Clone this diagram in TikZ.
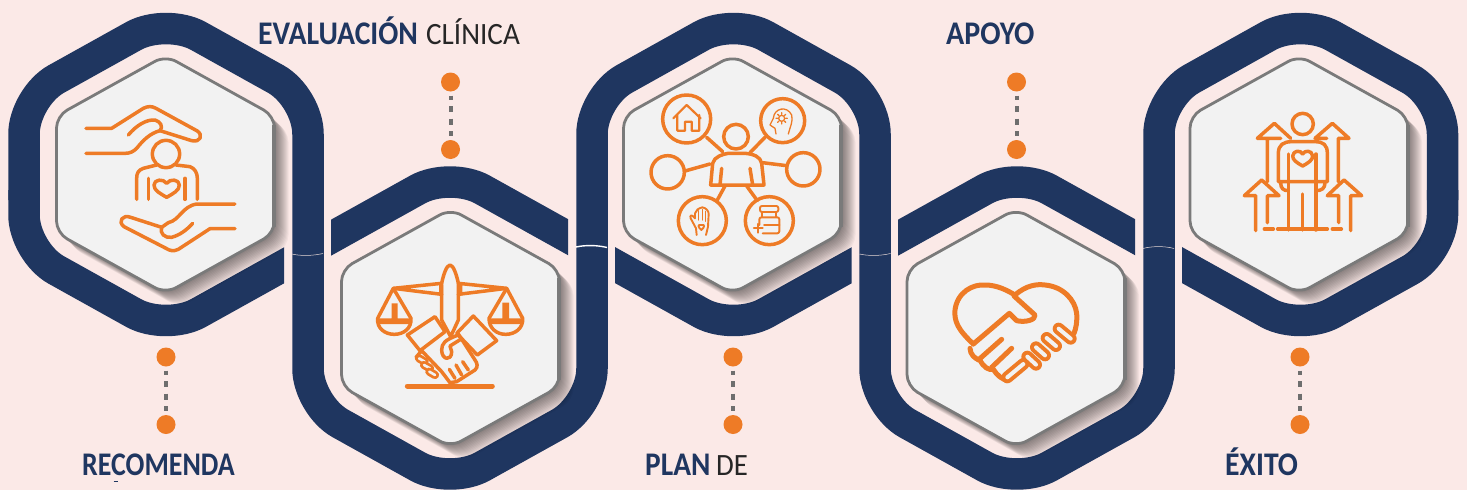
\documentclass[tikz,border=0pt]{standalone}
\usepackage{fontspec}
\usepackage{graphicx}
\setmainfont{Carlito}
\definecolor{bgp}{HTML}{FBE9E7}
\definecolor{navy}{HTML}{1F3660}
\definecolor{ico}{HTML}{EE7B26}
\definecolor{pan}{HTML}{F2F2F2}
\definecolor{edgeg}{HTML}{7A7A7A}
\definecolor{dashg}{HTML}{6E6E6E}
\tikzset{
  ring/.style={draw=navy,line width=31.5pt,rounded corners=37pt,line join=round},
  ic/.style={draw=ico,line width=3.5pt,line join=round,line cap=round,fill=none},
  icth/.style={draw=ico,line width=1.9pt,line join=round,line cap=round,fill=none},
  saus/.style={draw=ico,line width=2.8pt,double=pan,double distance=2.6pt,line cap=round},
  sausb/.style={draw=ico,line width=4pt,double=pan,double distance=4pt,line cap=round},
  icb/.style={draw=ico,line width=5pt,line join=round,line cap=round,fill=none},
  zm/.style 2 args={shift={(#1,#2)},x=.33333pt,y=-.33333pt},
  dotn/.style={circle,fill=ico,inner sep=0pt,minimum size=19pt},
  lnk/.style={draw=dashg,line width=4pt,dash pattern=on 6pt off 6.5pt,dash phase=2pt,shorten <=4pt,shorten >=4pt},
  ttl/.style={font=\fontsize{33}{36}\selectfont\bfseries,text=navy,anchor=base west,inner sep=0pt},
  ttr/.style={font=\fontsize{31}{36}\selectfont,text=black!85,anchor=base west,inner sep=0pt},
  wave/.style={draw=bgp!85!gray,line width=.5pt}
}
\newcommand\hexpanel[2]{%
  \foreach \i in {1,...,14}{\fill[black,opacity=.04,rounded corners=12pt,shift={(\i,\i)}]
    ({#1+109},{#2-58.5}) -- ({#1+109},{#2+58.5}) -- (#1,{#2+119}) -- ({#1-109},{#2+58.5}) -- ({#1-109},{#2-58.5}) -- (#1,{#2-119}) -- cycle;}
  \draw[draw=edgeg,fill=pan,line width=2.8pt,rounded corners=12pt]
    ({#1+109},{#2-58.5}) -- ({#1+109},{#2+58.5}) -- (#1,{#2+119}) -- ({#1-109},{#2+58.5}) -- ({#1-109},{#2-58.5}) -- (#1,{#2-119}) -- cycle;
  \draw[draw=edgeg,line width=4pt] ({#1+108.5},{#2-50}) -- ({#1+108.5},{#2+52});
}
\begin{document}
\begin{tikzpicture}[x=1pt,y=-1pt]
\useasboundingbox (0,0) rectangle (1467,490);
\fill[bgp] (0,0) rectangle (1467,490);
% serpentine band
\draw[ring] (24,200) -- (24,97) -- (166,18) -- (308,97) -- (308,405.5) -- (450,484.5) -- (592,405.5)
  -- (592,97) -- (733.5,18) -- (875,97) -- (875,405.5) -- (1017,484.5) -- (1159,405.5)
  -- (1159,97) -- (1300.5,18) -- (1442.5,97) -- (1442.5,200);
% lower chevrons
\begin{scope}\clip (0,0) rectangle (284,490);
\draw[ring] (24,190) -- (24,252) -- (166,331) -- (308,252);\end{scope}
\begin{scope}\clip (615,0) rectangle (851.5,490);
\draw[ring] (591.5,252) -- (733.5,331) -- (875.5,252);\end{scope}
\begin{scope}\clip (1182,0) rectangle (1467,490);
\draw[ring] (1442.5,190) -- (1442.5,252) -- (1300.5,331) -- (1158.5,252);\end{scope}
% upper chevrons
\begin{scope}\clip (331,0) rectangle (568,490);
\draw[ring] (308,250.5) -- (450,171.5) -- (592,250.5);\end{scope}
\begin{scope}\clip (898,0) rectangle (1135,490);
\draw[ring] (875,250.5) -- (1017,171.5) -- (1159,250.5);\end{scope}
% seams
\draw[wave] (292,254) .. controls (300,256) and (312,256) .. (323,253.5);
\draw[draw=white,line width=1.4pt] (576,247) .. controls (585,245) and (597,245) .. (607,247.5);
\draw[wave] (859.5,254) .. controls (868,256) and (880,256) .. (890.5,253.5);
\draw[wave] (1143,248.5) .. controls (1152,246) and (1165,246) .. (1174,248.5);
% panels
\hexpanel{165.5}{174.5}
\hexpanel{450.5}{328}
\hexpanel{732.5}{174.5}
\hexpanel{1016}{328}
\hexpanel{1299}{174.5}

% ---- icon 1
\begin{scope}[zm={0}{0}]
\draw[ic] (258,385) -- (335,385) -- (430,325) .. controls (445,318) and (455,318) .. (468,325) -- (592,393) .. controls (610,405) and (602,428) .. (575,422) -- (480,392);
\draw[ic] (385,405) .. controls (410,375) and (440,358) .. (465,360) .. controls (482,365) and (490,380) .. (480,392) .. controls (450,400) and (430,420) .. (410,445) .. controls (400,455) and (390,460) .. (375,460) -- (258,460);
\draw[ic] (498,462) circle[radius=41];
\draw[ic] (470,495) -- (430,505) .. controls (415,510) and (410,520) .. (410,535) -- (410,598);
\draw[ic] (528,495) -- (570,500) .. controls (585,505) and (592,520) .. (592,535) -- (592,598);
\draw[ic] (445,535) -- (445,598) (555,535) -- (555,598);
\draw[ic] (500,592) .. controls (480,580) and (462,572) .. (462,555) .. controls (462,538) and (490,535) .. (500,550) .. controls (510,535) and (538,538) .. (538,555) .. controls (538,572) and (520,580) .. (500,592) -- cycle;
\draw[ic] (705,612) -- (590,612) .. controls (545,620) and (540,660) .. (505,668) -- (485,682) .. controls (478,700) and (495,715) .. (515,712) .. controls (540,705) and (560,690) .. (578,670);
\draw[ic] (705,686) -- (630,686) -- (535,748) .. controls (520,755) and (510,752) .. (500,746) -- (372,680) .. controls (352,665) and (368,642) .. (392,652) -- (485,682);
\end{scope}

% ---- icon 2: scale
\begin{scope}[zm={285}{150}]
\draw[ic] (325,415) -- (470,400) (325,415) -- (470,433) (665,415) -- (520,400) (665,415) -- (520,433);
\fill[ico] (462,405) rectangle (474,436) (520,405) rectangle (532,436);
\draw[ic] (470,400) .. controls (475,375) and (485,345) .. (495,345) .. controls (505,345) and (515,375) .. (520,400) -- (520,510) -- (497,560) -- (470,510) -- cycle;
\draw[ic] (325,415) -- (278,505) .. controls (275,535) and (300,553) .. (328,553) .. controls (356,553) and (380,535) .. (378,505) -- cycle;
\draw[ic] (665,415) -- (612,505) .. controls (612,535) and (635,553) .. (662,553) .. controls (690,553) and (715,535) .. (713,505) -- cycle;
\fill[ico] (320,460) rectangle (338,505) (652,458) rectangle (672,505) (278,505) rectangle (380,522) (612,505) rectangle (715,522);
\end{scope}
% ---- icon 2: handshake
\begin{scope}[zm={400}{310}]
\draw[ic] (22,75) -- (105,20) -- (135,65) -- (60,122) -- cycle;
\draw[ic] (220,18) -- (290,92) -- (232,135) -- (170,70) -- cycle;
\draw[saus] (57,145) -- (74,155);
\draw[saus] (72,165) -- (90,175);
\draw[saus] (88,185) -- (105,195);
\draw[ic] (65,122) -- (48,142) (65,122) -- (125,185) -- (150,218) -- (170,215) -- (225,180) .. controls (235,170) and (232,160) .. (225,150) -- (175,72);
\draw[ic] (172,76) .. controls (135,90) and (125,100) .. (125,120) .. controls (125,150) and (155,155) .. (155,125) -- (150,108) -- (182,88);
\draw[ic] (148,178) -- (165,205) (168,165) -- (185,195) (188,155) -- (205,180);
\draw[ico,line width=5pt,line cap=round] (22,228) -- (277,228);
\end{scope}

% ---- icon 3
\begin{scope}[zm={570}{0}]
\draw[ic] (350,357) circle[radius=72] (638,362) circle[radius=66] (293,517) circle[radius=50] (700,508) circle[radius=50] (397,662) circle[radius=72] (598,662) circle[radius=72] (498,410) circle[radius=37];
\draw[ic] (422,555) -- (428,490) .. controls (432,470) and (460,462) .. (475,460) -- (525,460) .. controls (550,462) and (572,470) .. (575,490) -- (582,555) -- cycle;
\draw[ic] (455,505) -- (450,555) (540,505) -- (548,555);
\draw[ic] (410,412) -- (458,455) (585,412) -- (540,458) (345,513) -- (420,492) (578,488) -- (650,497) (465,558) -- (442,600) (530,558) -- (562,602);
\draw[icth,line width=2.2pt] (310,355) -- (350,315) -- (392,355) (322,345) -- (322,392) -- (345,392) -- (345,365) -- (365,365) -- (365,392) -- (388,392) -- (388,345);
\draw[icth,line width=1.3pt] (618,402) -- (615,385) -- (600,375) -- (610,355) .. controls (612,325) and (650,315) .. (665,345) .. controls (670,365) and (660,380) .. (655,402);
\draw[icth,line width=1.3pt] (635,355) circle[radius=9];
\draw[icth,line width=1.3pt] (635,338) -- (635,343) (635,367) -- (635,372) (618,355) -- (623,355) (647,355) -- (652,355) (623,343) -- (627,347) (647,343) -- (643,347) (623,367) -- (627,363) (647,367) -- (643,363);
\draw[icth] (380,705) -- (378,685) -- (362,655) .. controls (358,645) and (366,642) .. (375,655) -- (375,640) .. controls (378,630) and (385,625) .. (397,622) .. controls (408,624) and (416,632) .. (416,642) -- (414,680) -- (408,705);
\draw[icth,line width=1.3pt] (386,632) -- (386,660) (397,628) -- (397,660) (407,634) -- (407,664);
\draw[icth] (394,690) .. controls (384,682) and (382,672) .. (394,675) .. controls (406,672) and (404,682) .. (394,690) -- cycle;
\draw[icth,rounded corners=2pt] (570,618) rectangle (625,636);
\draw[icth] (577,638) -- (577,650) (618,638) -- (618,650);
\draw[icth,rounded corners=2pt] (568,675) -- (568,652) -- (628,652) -- (628,700) -- (578,700);
\draw[icth] (582,676) -- (628,676);
\draw[icth,line width=2.2pt] (552,685) -- (578,685) (565,672) -- (565,698);
\end{scope}

% ---- icon 4
\begin{scope}[zm={950}{280}]
\draw[icb] (70,192) .. controls (25,150) and (12,125) .. (15,90) .. controls (22,35) and (70,12) .. (105,15) .. controls (140,15) and (170,30) .. (195,45) .. controls (230,15) and (260,12) .. (285,15) .. controls (340,20) and (375,60) .. (380,100) .. controls (382,125) and (378,145) .. (372,160);
\draw[icb] (192,48) -- (255,105) .. controls (258,120) and (225,128) .. (200,122) -- (178,100) -- (70,192);
\draw[icb] (155,178) -- (85,240) (185,205) -- (125,262);
\draw[icb] (60,205) .. controls (60,222) and (75,238) .. (90,240) .. controls (100,262) and (118,272) .. (130,268) .. controls (140,285) and (158,300) .. (172,300);
\draw[sausb] (172,292) -- (220,252);
\draw[sausb] (232,230) -- (258,254);
\draw[sausb] (258,202) -- (285,226);
\draw[sausb] (290,174) -- (318,198);
\draw[sausb] (326,146) -- (362,176);
\end{scope}

% ---- icon 5
\begin{scope}[zm={1140}{0}]
\draw[ic] (488,372) circle[radius=32];
\draw[ic] (422,415) -- (352,415) -- (403,370) -- (452,415) (382,415) -- (382,545);
\draw[ic] (525,415) -- (577,370) -- (627,415) -- (595,415) -- (595,545) (525,415) -- (560,415);
\draw[ic] (347,692) -- (347,587) -- (313,587) -- (365,540) -- (417,587) -- (382,587) -- (382,668);
\draw[ic] (632,692) -- (632,587) -- (665,587) -- (612,540) -- (562,587) -- (596,587) -- (596,668);
\draw[ic] (415,545) -- (415,460) .. controls (415,435) and (430,425) .. (455,425) -- (525,425) .. controls (550,425) and (562,435) .. (562,460) -- (562,545) -- cycle;
\draw[ic] (445,462) -- (445,690) (528,462) -- (528,690) (488,582) -- (488,690);
\draw[ic] (413,687) -- (562,687) (373,687) -- (400,687) (577,687) -- (604,687);
\draw[ic] (422,548) .. controls (422,565) and (430,572) .. (445,572) (555,548) .. controls (555,565) and (545,572) .. (528,572);
\draw[ic] (488,498) .. controls (470,488) and (458,480) .. (458,468) .. controls (460,450) and (482,450) .. (488,462) .. controls (494,450) and (516,450) .. (518,468) .. controls (518,480) and (506,488) .. (488,498) -- cycle;
\end{scope}

% ---- dots and links
\node[dotn] (a1) at (166,357) {};
\node[dotn] (a2) at (166,424.5) {};
\node[dotn] (b1) at (450.5,82) {};
\node[dotn] (b2) at (450.5,149.5) {};
\node[dotn] (c1) at (733,357) {};
\node[dotn] (c2) at (733,424.5) {};
\node[dotn] (d1) at (1016.5,82) {};
\node[dotn] (d2) at (1016.5,149.5) {};
\node[dotn] (e1) at (1300,357) {};
\node[dotn] (e2) at (1300,424.5) {};
\draw[lnk] (a1) -- (a2);
\draw[lnk] (b1) -- (b2);
\draw[lnk] (c1) -- (c2);
\draw[lnk] (d1) -- (d2);
\draw[lnk] (e1) -- (e2);

% ---- labels
\node[ttl] (t1) at (82,475) {\scalebox{.845}[1]{RECOMENDA}};
\draw[navy,line width=1pt] (113.5,481.7) -- (117.5,481.7);
\node[ttl] (t2) at (258,44) {\scalebox{.9}[1]{EVALUACIÓN}};
\node[ttr] (t2b) at (426,44) {\scalebox{.94}[1]{CLÍNICA}};
\node[ttl] (t3) at (645,475) {\scalebox{.89}[1]{PLAN}};
\node[ttr] (t3b) at (716,475) {\scalebox{.93}[1]{DE}};
\node[ttl] (t4) at (946,44) {\scalebox{.91}[1]{APOYO}};
\node[ttl] (t5) at (1225,475) {\scalebox{.9}[1]{ÉXITO}};
\end{tikzpicture}
\end{document}
